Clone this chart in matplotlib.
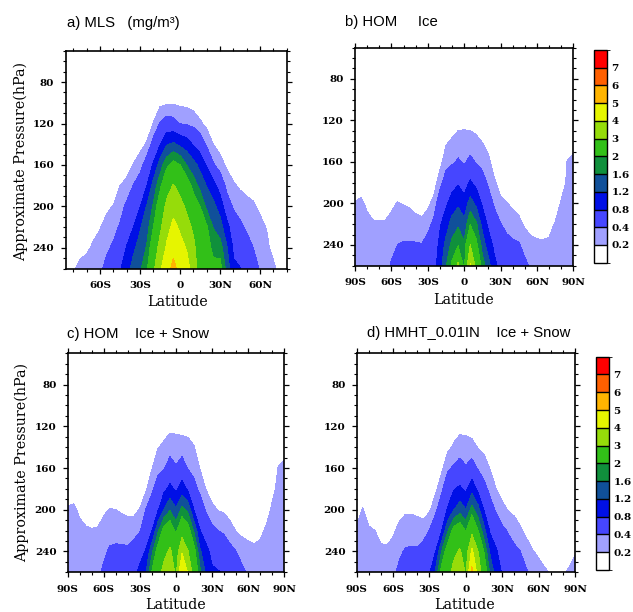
import numpy as np
import matplotlib
matplotlib.use("Agg")
import matplotlib.pyplot as plt
from matplotlib.cm import ScalarMappable
from matplotlib.colors import ListedColormap, BoundaryNorm
from matplotlib.ticker import MultipleLocator

# contour levels and fill colours (white below 0.2)
LEVELS = [0.2, 0.4, 0.8, 1.2, 1.6, 2, 3, 4, 5, 6, 7]
LEVEL_LABELS = ["0.2", "0.4", "0.8", "1.2", "1.6", "2", "3", "4", "5", "6", "7"]
COLORS = ["#a0a0ff", "#4646ff", "#0010e6", "#10509a", "#10903c", "#32c018",
          "#96dc0a", "#e6f500", "#ffb400", "#ff6000", "#ff0000"]

# ---- a) MLS, columns by latitude, values at p_mls (mg/m3) ----
lat_mls = list(range(-85, 81, 5))
p_mls = [100, 120, 140, 160, 180, 200, 220, 240, 260]
mls = [
    [0, 0, 0, 0, 0, 0, 0, 0, 0.05],
    [0, 0, 0, 0, 0, 0, 0, 0.08, 0.17],
    [0, 0, 0, 0, 0, 0, 0, 0.13, 0.26],
    [0, 0, 0, 0, 0, 0, 0.03, 0.17, 0.27],
    [0, 0, 0, 0, 0, 0.01, 0.14, 0.23, 0.29],
    [0, 0, 0, 0, 0, 0.06, 0.19, 0.28, 0.35],
    [0, 0, 0, 0, 0.03, 0.16, 0.27, 0.36, 0.48],
    [0, 0, 0, 0, 0.08, 0.21, 0.32, 0.44, 0.59],
    [0, 0, 0, 0.07, 0.2, 0.31, 0.43, 0.6, 0.76],
    [0, 0, 0, 0.11, 0.26, 0.45, 0.63, 0.82, 1.04],
    [0, 0, 0.07, 0.21, 0.41, 0.6, 0.8, 1.12, 1.35],
    [0, 0, 0.13, 0.31, 0.54, 0.78, 1.16, 1.36, 1.53],
    [0, 0.07, 0.22, 0.53, 0.79, 1.23, 1.42, 1.63, 1.89],
    [0.07, 0.21, 0.5, 0.84, 1.35, 1.65, 2.0, 2.4, 2.8],
    [0.15, 0.42, 0.78, 1.39, 1.88, 2.36, 2.8, 3.31, 3.86],
    [0.17, 0.53, 1.16, 1.87, 2.62, 3.22, 3.67, 4.13, 4.6],
    [0.18, 0.49, 1.26, 2.18, 3.06, 3.67, 4.23, 4.74, 5.25],
    [0.16, 0.39, 1.11, 2.0, 2.67, 3.29, 3.86, 4.3, 4.7],
    [0.15, 0.36, 1.0, 1.58, 2.31, 2.82, 3.37, 3.94, 4.3],
    [0.12, 0.32, 0.75, 1.34, 1.83, 2.32, 2.8, 3.3, 3.65],
    [0.08, 0.23, 0.59, 1.08, 1.46, 2.0, 2.12, 2.23, 2.35],
    [0, 0.15, 0.35, 0.76, 1.18, 1.5, 2.05, 2.15, 2.25],
    [0, 0.07, 0.2, 0.43, 0.93, 1.31, 1.57, 1.91, 2.1],
    [0, 0, 0.12, 0.28, 0.63, 1.02, 1.37, 1.78, 2.2],
    [0, 0, 0.04, 0.17, 0.32, 0.57, 0.93, 1.25, 1.45],
    [0, 0, 0, 0.09, 0.23, 0.37, 0.56, 0.75, 0.85],
    [0, 0, 0, 0.04, 0.17, 0.31, 0.45, 0.64, 0.81],
    [0, 0, 0, 0.01, 0.14, 0.26, 0.36, 0.51, 0.7],
    [0, 0, 0, 0, 0.11, 0.23, 0.31, 0.4, 0.5],
    [0, 0, 0, 0, 0.03, 0.16, 0.26, 0.33, 0.38],
    [0, 0, 0, 0, 0, 0.06, 0.19, 0.25, 0.3],
    [0, 0, 0, 0, 0, 0, 0, 0.13, 0.25],
    [0, 0, 0, 0, 0, 0, 0, 0.05, 0.12],
    [0, 0, 0, 0, 0, 0, 0, 0, 0],
]

# ---- model runs, columns by latitude, values at p_mod ----
lat_mod = list(range(-90, 91, 5))
p_mod = [120, 140, 160, 180, 200, 220, 240, 260]

hom_ice = [
    [0, 0, 0, 0.11, 0.21, 0.25, 0.28, 0.31],
    [0, 0, 0, 0.15, 0.22, 0.25, 0.27, 0.3],
    [0, 0, 0, 0.05, 0.18, 0.23, 0.26, 0.3],
    [0, 0, 0, 0, 0.12, 0.22, 0.26, 0.3],
    [0, 0, 0, 0, 0.11, 0.22, 0.26, 0.3],
    [0, 0, 0, 0, 0.11, 0.22, 0.27, 0.33],
    [0, 0, 0, 0.03, 0.16, 0.26, 0.34, 0.42],
    [0, 0, 0, 0.07, 0.21, 0.3, 0.4, 0.45],
    [0, 0, 0, 0.05, 0.19, 0.31, 0.42, 0.48],
    [0, 0, 0, 0.03, 0.17, 0.3, 0.42, 0.5],
    [0, 0, 0, 0, 0.13, 0.27, 0.42, 0.5],
    [0, 0, 0, 0, 0.11, 0.25, 0.41, 0.52],
    [0, 0, 0, 0, 0.15, 0.32, 0.5, 0.6],
    [0, 0, 0, 0.09, 0.27, 0.46, 0.55, 0.65],
    [0, 0, 0.12, 0.32, 0.55, 0.75, 0.9, 1.0],
    [0.03, 0.17, 0.32, 0.51, 0.73, 1.02, 1.31, 1.57],
    [0.09, 0.22, 0.36, 0.63, 0.98, 1.35, 1.71, 2.1],
    [0.13, 0.27, 0.43, 0.75, 1.12, 1.54, 1.94, 3.2],
    [0.15, 0.26, 0.37, 0.62, 0.94, 1.32, 1.66, 1.8],
    [0.13, 0.27, 0.46, 0.85, 1.37, 1.97, 3.0, 4.1],
    [0.11, 0.24, 0.38, 0.68, 1.09, 1.66, 2.12, 2.7],
    [0.07, 0.19, 0.33, 0.5, 0.74, 1.07, 1.43, 1.8],
    [0, 0.12, 0.25, 0.36, 0.53, 0.72, 0.98, 1.35],
    [0, 0, 0.1, 0.23, 0.36, 0.52, 0.71, 0.88],
    [0, 0, 0, 0.11, 0.25, 0.41, 0.55, 0.7],
    [0, 0, 0, 0.07, 0.21, 0.34, 0.47, 0.6],
    [0, 0, 0, 0.03, 0.16, 0.3, 0.44, 0.55],
    [0, 0, 0, 0, 0.12, 0.26, 0.42, 0.5],
    [0, 0, 0, 0, 0.04, 0.17, 0.33, 0.45],
    [0, 0, 0, 0, 0.01, 0.14, 0.25, 0.37],
    [0, 0, 0, 0, 0, 0.13, 0.23, 0.3],
    [0, 0, 0, 0, 0, 0.11, 0.23, 0.28],
    [0, 0, 0, 0, 0.01, 0.15, 0.23, 0.28],
    [0, 0, 0, 0, 0.1, 0.21, 0.25, 0.28],
    [0, 0, 0, 0.11, 0.22, 0.25, 0.27, 0.28],
    [0, 0.07, 0.21, 0.23, 0.25, 0.26, 0.27, 0.28],
    [0, 0.17, 0.22, 0.24, 0.26, 0.27, 0.28, 0.29],
]

hom_icesnow = [
    [0, 0, 0, 0.11, 0.22, 0.25, 0.28, 0.31],
    [0, 0, 0, 0.15, 0.22, 0.25, 0.27, 0.3],
    [0, 0, 0, 0.05, 0.18, 0.23, 0.26, 0.3],
    [0, 0, 0, 0, 0.13, 0.22, 0.26, 0.3],
    [0, 0, 0, 0, 0.11, 0.21, 0.26, 0.3],
    [0, 0, 0, 0, 0.11, 0.22, 0.28, 0.36],
    [0, 0, 0, 0.03, 0.17, 0.27, 0.36, 0.44],
    [0, 0, 0, 0.07, 0.21, 0.32, 0.43, 0.5],
    [0, 0, 0, 0.07, 0.2, 0.33, 0.44, 0.52],
    [0, 0, 0, 0.04, 0.17, 0.32, 0.44, 0.52],
    [0, 0, 0, 0.01, 0.15, 0.3, 0.44, 0.55],
    [0, 0, 0, 0.01, 0.15, 0.31, 0.52, 0.7],
    [0, 0, 0, 0.07, 0.21, 0.38, 0.65, 0.9],
    [0, 0, 0.03, 0.17, 0.41, 0.61, 0.83, 1.17],
    [0, 0.05, 0.19, 0.35, 0.56, 0.78, 1.49, 2.05],
    [0.05, 0.19, 0.33, 0.52, 0.75, 1.51, 2.25, 2.6],
    [0.11, 0.24, 0.38, 0.7, 1.21, 2.19, 2.73, 3.3],
    [0.15, 0.3, 0.52, 0.9, 1.56, 2.38, 3.15, 3.7],
    [0.15, 0.28, 0.42, 0.72, 1.24, 1.89, 2.4, 2.8],
    [0.13, 0.29, 0.53, 0.98, 1.72, 2.54, 3.9, 5.05],
    [0.13, 0.26, 0.38, 0.72, 1.48, 2.23, 3.02, 3.9],
    [0.08, 0.21, 0.32, 0.48, 0.78, 1.52, 2.2, 2.5],
    [0, 0.07, 0.19, 0.34, 0.55, 0.81, 1.25, 1.7],
    [0, 0, 0.05, 0.19, 0.37, 0.62, 0.9, 1.1],
    [0, 0, 0, 0.1, 0.25, 0.46, 0.7, 0.85],
    [0, 0, 0, 0.06, 0.19, 0.4, 0.62, 0.82],
    [0, 0, 0, 0.03, 0.17, 0.35, 0.6, 0.78],
    [0, 0, 0, 0, 0.11, 0.28, 0.47, 0.6],
    [0, 0, 0, 0, 0.05, 0.19, 0.4, 0.5],
    [0, 0, 0, 0, 0.01, 0.15, 0.31, 0.45],
    [0, 0, 0, 0, 0.01, 0.14, 0.26, 0.37],
    [0, 0, 0, 0, 0, 0.13, 0.24, 0.29],
    [0, 0, 0, 0, 0.03, 0.17, 0.24, 0.28],
    [0, 0, 0, 0.01, 0.15, 0.22, 0.25, 0.28],
    [0, 0, 0.03, 0.17, 0.22, 0.25, 0.27, 0.28],
    [0, 0.07, 0.21, 0.23, 0.25, 0.26, 0.27, 0.28],
    [0, 0.17, 0.22, 0.24, 0.26, 0.27, 0.28, 0.29],
]

hmht_icesnow = [
    [0, 0, 0, 0, 0.14, 0.22, 0.25, 0.28],
    [0, 0, 0, 0.09, 0.21, 0.24, 0.26, 0.28],
    [0, 0, 0, 0, 0.13, 0.22, 0.25, 0.28],
    [0, 0, 0, 0, 0.07, 0.2, 0.24, 0.28],
    [0, 0, 0, 0, 0.02, 0.15, 0.23, 0.28],
    [0, 0, 0, 0, 0, 0.13, 0.23, 0.3],
    [0, 0, 0, 0, 0.03, 0.17, 0.27, 0.35],
    [0, 0, 0, 0, 0.13, 0.25, 0.36, 0.45],
    [0, 0, 0, 0.03, 0.17, 0.3, 0.42, 0.5],
    [0, 0, 0, 0.03, 0.17, 0.31, 0.43, 0.52],
    [0, 0, 0, 0.01, 0.15, 0.3, 0.43, 0.55],
    [0, 0, 0, 0, 0.12, 0.3, 0.5, 0.62],
    [0, 0, 0, 0.03, 0.17, 0.41, 0.58, 0.75],
    [0, 0, 0.02, 0.15, 0.35, 0.57, 0.79, 1.26],
    [0, 0.02, 0.15, 0.35, 0.56, 0.77, 1.6, 2.2],
    [0.01, 0.15, 0.36, 0.59, 0.83, 1.54, 2.3, 2.6],
    [0.09, 0.23, 0.43, 0.77, 1.18, 2.18, 2.76, 3.3],
    [0.14, 0.29, 0.5, 0.86, 1.43, 2.35, 3.1, 3.6],
    [0.14, 0.27, 0.42, 0.72, 1.21, 1.96, 2.45, 2.9],
    [0.11, 0.26, 0.51, 1.04, 1.75, 2.75, 4.19, 5.3],
    [0.07, 0.19, 0.37, 0.7, 1.35, 2.02, 3.02, 3.6],
    [0.02, 0.15, 0.29, 0.48, 0.78, 1.33, 1.98, 2.4],
    [0, 0.06, 0.19, 0.33, 0.51, 0.74, 1.13, 1.5],
    [0, 0, 0.07, 0.2, 0.37, 0.59, 0.84, 1.0],
    [0, 0, 0, 0.11, 0.26, 0.45, 0.62, 0.77],
    [0, 0, 0, 0.06, 0.19, 0.38, 0.5, 0.62],
    [0, 0, 0, 0.02, 0.15, 0.31, 0.45, 0.55],
    [0, 0, 0, 0, 0.09, 0.23, 0.4, 0.48],
    [0, 0, 0, 0, 0.01, 0.15, 0.29, 0.42],
    [0, 0, 0, 0, 0, 0.09, 0.21, 0.37],
    [0, 0, 0, 0, 0, 0.03, 0.17, 0.26],
    [0, 0, 0, 0, 0, 0, 0.11, 0.23],
    [0, 0, 0, 0, 0, 0, 0.05, 0.18],
    [0, 0, 0, 0, 0, 0, 0.03, 0.12],
    [0, 0, 0, 0, 0, 0, 0.08, 0.17],
    [0, 0, 0, 0, 0, 0, 0.1, 0.23],
    [0, 0, 0, 0, 0, 0.05, 0.18, 0.28],
]

TICK_FONT = dict(family="DejaVu Serif", weight="bold", size=7.5)
LABEL_FONT = dict(family="DejaVu Serif", size=10.3)
TITLE_FONT = dict(family="Liberation Sans", size=10.7)

W, H = 633, 612
fig = plt.figure(figsize=(W / 100, H / 100), dpi=100)


def box(l, t, r, b):
    # pixel box -> figure fraction
    return [l / W, 1 - b / H, (r - l) / W, (b - t) / H]


def panel(rect, lat, p, cols, xticks, xlabs, xlim):
    ax = fig.add_axes(box(*rect))
    z = np.array(cols).T
    ax.contourf(lat, p, z, levels=LEVELS + [100], colors=COLORS)
    ax.set_xlim(*xlim); ax.set_ylim(260, 50)
    ax.set_xticks(xticks); ax.set_xticklabels(xlabs, fontdict=TICK_FONT)
    ax.set_yticks([80, 120, 160, 200, 240])
    ax.set_yticklabels(["80", "120", "160", "200", "240"], fontdict=TICK_FONT)
    ax.xaxis.set_minor_locator(MultipleLocator(10))
    ax.yaxis.set_minor_locator(MultipleLocator(10))
    ax.tick_params(which="both", direction="out", top=True, right=True)
    ax.tick_params(which="major", length=3.6, width=0.9)
    ax.tick_params(which="minor", length=2.0, width=0.8)
    ax.tick_params(axis="x", pad=5.5)
    ax.tick_params(axis="y", pad=4.5)
    for s in ax.spines.values():
        s.set_linewidth(1.2)
    return ax


def colorbar(rect):
    cax = fig.add_axes(box(*rect))
    cmap = ListedColormap(["white"] + COLORS)
    bounds = [0] + LEVELS + [8]
    norm = BoundaryNorm(bounds, cmap.N)
    cb = fig.colorbar(ScalarMappable(norm=norm, cmap=cmap), cax=cax, boundaries=bounds,
                      spacing="uniform", ticks=LEVELS, drawedges=True)
    cb.ax.set_yticklabels(LEVEL_LABELS, fontdict=TICK_FONT)
    cb.ax.tick_params(length=0, pad=3)
    cb.outline.set_linewidth(1.0)
    cb.dividers.set_linewidth(1.0)


model_ticks = [-90, -60, -30, 0, 30, 60, 90]
model_labs = ["90S", "60S", "30S", "0", "30N", "60N", "90N"]

panel((65.5, 51, 287.3, 268.5), lat_mls, p_mls, mls, [-60, -30, 0, 30, 60],
      ["60S", "30S", "0", "30N", "60N"], (-86, 80.5))
panel((355, 47.7, 573.3, 265.7), lat_mod, p_mod, hom_ice, model_ticks, model_labs, (-90, 90))
panel((67.7, 353.3, 284.3, 572.3), lat_mod, p_mod, hom_icesnow, model_ticks, model_labs, (-90, 90))
panel((356.7, 353.3, 575, 572.3), lat_mod, p_mod, hmht_icesnow, model_ticks, model_labs, (-90, 90))

colorbar((594.3, 50, 607.3, 262.7))
colorbar((596, 356.7, 609.3, 570))

# titles, placed by baseline in pixels
for x, y, s in [(66.7, 26.7, "a) MLS   (mg/m³)"), (345, 26, "b) HOM     Ice"),
                (66.7, 338.3, "c) HOM    Ice + Snow"), (366.7, 337.3, "d) HMHT_0.01IN    Ice + Snow")]:
    fig.text(x / W, 1 - y / H, s, ha="left", va="baseline", **TITLE_FONT)

for x, y in [(177.5, 302), (463.3, 300), (175.8, 605), (465, 605)]:
    fig.text(x / W, 1 - y / H, "Latitude", ha="center", va="center", **LABEL_FONT)
for x, y in [(21, 162), (22, 463)]:
    fig.text(x / W, 1 - y / H, "Approximate Pressure(hPa)", ha="center", va="center",
             rotation=90, **LABEL_FONT)

fig.savefig("out.png", dpi=100)
